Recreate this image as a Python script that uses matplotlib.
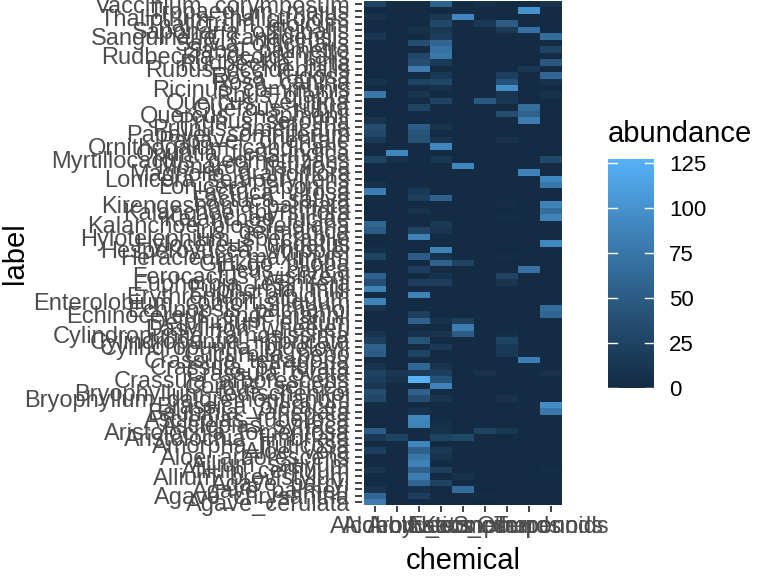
import numpy as np
import matplotlib
matplotlib.use("Agg")
import matplotlib.pyplot as plt
from matplotlib.colors import ListedColormap, Normalize
import matplotlib.colorbar as mcolorbar

plt.rcParams['font.family'] = ['Liberation Sans', 'DejaVu Sans']

# ---------------- data ----------------
chemicals = ["Alcohols", "Aldehydes", "Aromatics", "Esters", "Ketones",
             "N_compounds", "Other", "S_compounds", "Terpenoids"]

# plant labels, listed top to bottom (reverse alphabetical)
labels = [
    "Vaccinium_corymbosum", "Tropaeolum_majus", "Thalictrum_thalictroides",
    "Thalictrum_dioicum", "Saponaria_officinalis", "Sanguinaria_canadensis",
    "Salvia_officinalis", "Sabal_palmetto", "Rudbeckia_occidentalis",
    "Rudbeckia_hirta", "Rubus_occidentalis", "Rosa_rugosa", "Rosa_canina",
    "Ricinus_communis", "Rhus_glabra", "Quercus_velutina", "Quercus_rubra",
    "Quercus_chapmanii", "Prunus_serotina", "Prunus_americana",
    "Papaver_somniferum", "Papaver_orientale", "Ornithogalum_candicans",
    "Opuntia_ficus-indica", "Myrtillocactus_geometrizans", "Monarda_fistulosa",
    "Magnolia_grandiflora", "Lonicera_sempervirens", "Lonicera_japonica",
    "Lactuca_virosa", "Lactuca_sativa", "Kirengeshoma_palmata",
    "Kalanchoe_thyrsiflora", "Kalanchoe_luciae", "Kalanchoe_blossfeldiana",
    "Iris_germanica", "Hylotelephium_spectabile", "Hylocereus_undatus",
    "Hesperoyucca_whipplei", "Heracleum_maximum", "Ginkgo_biloba",
    "Ficus_carica", "Ferocactus_wislizeni", "Euphorbia_resinifera",
    "Euphorbia_milii", "Erythronium_albidum", "Enterolobium_contortisiliquum",
    "Echinopsis_pachanoi", "Echinocereus_engelmannii", "Delphinium_elatum",
    "Dasylirion_wheeleri", "Cylindropuntia_ramosissima",
    "Cylindropuntia_imbricata", "Cylindropuntia_bigelovii", "Cucurbita_pepo",
    "Crassula_tetragona", "Crassula_perforata", "Crassula_ovata",
    "Crassula_arborescens", "Cornus_sericea", "Bryophyllum_fedtschenkoi",
    "Bryophyllum_daigremontianum", "Brassica_oleracea", "Bauhinia_variegata",
    "Asclepias_tuberosa", "Asclepias_syriaca", "Aristolochia_tomentosa",
    "Aristolochia_fimbriata", "Amorpha_fruticosa", "Aloe_vera",
    "Aloe_arborescens", "Allium_sativum", "Allium_cernuum",
    "Allium_brevistylum", "Agave_parryi", "Agave_palmeri", "Agave_chrysantha",
    "Agave_cerulata",
]

# abundance per plant (rows in same order as labels), columns = chemicals
abundance = [
    [25, 0, 0, 55, 0, 8, 0, 0, 10],
    [0, 0, 0, 0, 0, 0, 0, 100, 0],
    [8, 0, 0, 12, 90, 0, 0, 0, 0],
    [0, 0, 0, 30, 0, 15, 50, 0, 0],
    [0, 0, 6, 12, 0, 0, 15, 70, 0],
    [12, 0, 0, 20, 0, 0, 0, 0, 65],
    [0, 0, 35, 60, 0, 0, 0, 0, 0],
    [0, 0, 0, 70, 0, 0, 0, 0, 25],
    [0, 0, 30, 75, 0, 0, 0, 0, 0],
    [0, 0, 35, 15, 0, 0, 0, 0, 45],
    [0, 0, 80, 0, 0, 0, 0, 12, 0],
    [0, 0, 0, 15, 0, 0, 20, 0, 60],
    [8, 0, 25, 30, 0, 0, 40, 0, 8],
    [0, 0, 0, 8, 0, 0, 95, 0, 0],
    [75, 0, 10, 0, 0, 0, 10, 0, 8],
    [0, 0, 0, 25, 0, 45, 12, 0, 0],
    [0, 0, 25, 0, 0, 0, 0, 65, 0],
    [0, 0, 0, 0, 0, 0, 35, 55, 0],
    [10, 0, 0, 0, 0, 0, 0, 80, 0],
    [35, 0, 50, 10, 0, 0, 0, 0, 0],
    [30, 0, 40, 0, 0, 0, 0, 0, 0],
    [15, 0, 40, 10, 0, 0, 8, 0, 0],
    [0, 0, 0, 90, 0, 0, 0, 0, 0],
    [0, 90, 0, 0, 0, 0, 0, 0, 0],
    [25, 8, 0, 12, 0, 0, 0, 0, 30],
    [0, 0, 0, 0, 90, 0, 0, 0, 0],
    [0, 0, 0, 0, 0, 0, 0, 85, 0],
    [0, 0, 0, 0, 0, 0, 0, 0, 90],
    [8, 0, 0, 0, 0, 0, 0, 0, 75],
    [80, 0, 15, 0, 0, 0, 0, 0, 0],
    [0, 0, 20, 55, 0, 0, 0, 0, 0],
    [0, 0, 0, 0, 0, 0, 3, 0, 85],
    [0, 0, 8, 0, 0, 0, 0, 0, 65],
    [0, 0, 0, 0, 0, 0, 3, 0, 85],
    [60, 0, 0, 15, 0, 0, 0, 0, 0],
    [50, 0, 25, 10, 0, 0, 0, 0, 0],
    [0, 0, 85, 0, 0, 0, 0, 0, 0],
    [0, 0, 0, 0, 0, 0, 0, 0, 90],
    [5, 0, 0, 85, 0, 0, 0, 0, 0],
    [25, 0, 50, 8, 0, 0, 3, 0, 0],
    [0, 0, 0, 55, 25, 0, 0, 0, 0],
    [0, 0, 20, 0, 0, 0, 0, 70, 0],
    [55, 0, 0, 8, 0, 0, 25, 0, 0],
    [35, 0, 20, 20, 0, 0, 10, 0, 0],
    [85, 0, 0, 0, 0, 0, 0, 0, 0],
    [0, 0, 85, 0, 0, 0, 0, 0, 0],
    [85, 0, 0, 0, 0, 0, 0, 0, 0],
    [10, 0, 0, 0, 0, 0, 0, 0, 65],
    [0, 0, 20, 0, 0, 0, 0, 0, 60],
    [0, 0, 55, 8, 20, 0, 0, 0, 0],
    [0, 0, 0, 0, 80, 0, 0, 0, 0],
    [10, 0, 8, 10, 50, 0, 5, 0, 0],
    [20, 0, 40, 0, 0, 0, 25, 0, 0],
    [55, 0, 0, 15, 0, 0, 15, 0, 0],
    [50, 0, 25, 0, 0, 0, 15, 0, 0],
    [0, 0, 0, 0, 0, 0, 0, 80, 0],
    [10, 0, 60, 10, 0, 0, 0, 0, 0],
    [25, 12, 15, 20, 0, 8, 0, 0, 8],
    [20, 8, 127, 40, 0, 0, 0, 0, 0],
    [12, 0, 0, 85, 0, 0, 0, 0, 0],
    [35, 0, 55, 0, 0, 0, 0, 0, 0],
    [30, 0, 35, 10, 0, 0, 8, 0, 0],
    [0, 0, 0, 0, 0, 0, 0, 0, 95],
    [0, 0, 8, 0, 0, 0, 0, 0, 75],
    [0, 0, 90, 0, 0, 0, 0, 0, 0],
    [0, 0, 85, 5, 0, 0, 0, 0, 0],
    [50, 0, 0, 8, 0, 25, 12, 0, 0],
    [15, 25, 0, 25, 30, 0, 0, 0, 0],
    [0, 0, 90, 0, 0, 0, 0, 0, 0],
    [20, 0, 55, 15, 0, 0, 0, 0, 0],
    [0, 0, 75, 10, 0, 0, 0, 0, 0],
    [0, 0, 85, 0, 0, 0, 0, 0, 0],
    [10, 0, 55, 20, 0, 0, 0, 0, 3],
    [0, 0, 80, 0, 8, 0, 0, 0, 0],
    [0, 0, 60, 25, 0, 0, 0, 0, 0],
    [10, 0, 5, 0, 65, 0, 0, 0, 0],
    [60, 0, 20, 0, 0, 3, 0, 0, 0],
    [80, 0, 0, 0, 0, 0, 0, 0, 0],
]
legend_ticks = [0, 25, 50, 75, 100, 125]

# ---------------- colour map (ggplot2 default gradient, Lab interpolation) ----------------
def _hex(h):
    h = h.lstrip('#')
    return np.array([int(h[i:i + 2], 16) / 255 for i in (0, 2, 4)])

_M = np.array([[0.4124564, 0.3575761, 0.1804375],
               [0.2126729, 0.7151522, 0.0721750],
               [0.0193339, 0.1191920, 0.9503041]])
_WP = np.array([0.95047, 1.0, 1.08883])

def _to_lab(rgb):
    lin = np.where(rgb <= 0.04045, rgb / 12.92, ((rgb + 0.055) / 1.055) ** 2.4)
    xyz = _M @ lin / _WP
    f = np.where(xyz > (6 / 29) ** 3, np.cbrt(xyz), xyz / (3 * (6 / 29) ** 2) + 4 / 29)
    return np.array([116 * f[1] - 16, 500 * (f[0] - f[1]), 200 * (f[1] - f[2])])

def _from_lab(lab):
    L, a, b = lab
    fy = (L + 16) / 116
    fx = fy + a / 500
    fz = fy - b / 200
    f = np.array([fx, fy, fz])
    xyz = np.where(f > 6 / 29, f ** 3, 3 * (6 / 29) ** 2 * (f - 4 / 29)) * _WP
    lin = np.linalg.solve(_M, xyz)
    lin = np.clip(lin, 0, 1)
    rgb = np.where(lin <= 0.0031308, 12.92 * lin, 1.055 * lin ** (1 / 2.4) - 0.055)
    return np.clip(rgb, 0, 1)

_lo, _hi = _to_lab(_hex("#132B43")), _to_lab(_hex("#56B1F7"))
cmap = ListedColormap([_from_lab(_lo + t * (_hi - _lo)) for t in np.linspace(0, 1, 256)])

# ---------------- figure ----------------
W, H = 768, 576
fig = plt.figure(figsize=(W / 100, H / 100), dpi=100)
fig.patch.set_facecolor('white')

vals = np.array(abundance, dtype=float)
n_rows, n_cols = vals.shape
norm = Normalize(vmin=vals.min(), vmax=vals.max())

px_l, px_r, px_t, px_b = 362, 564, 0.25, 506.1
ax = fig.add_axes([px_l / W, 1 - px_b / H, (px_r - px_l) / W, (px_b - px_t) / H])
ypos = n_rows - 1 - np.arange(n_rows)
xedges = np.arange(n_cols + 1) - 0.5
yedges = np.arange(n_rows + 1) - 0.5
ax.pcolormesh(xedges, yedges, vals[::-1], cmap=cmap, norm=norm, shading='flat')
ax.set_xlim(-0.6, n_cols - 0.4)
ax.set_ylim(-0.6, n_rows - 0.4)

ax.set_xticks(np.arange(n_cols))
ax.set_xticklabels(chemicals)
ax.set_yticks(ypos)
ax.set_yticklabels(labels)
for s in ax.spines.values():
    s.set_visible(False)
ax.tick_params(axis='both', direction='out', color='#333333', width=1.3,
               labelsize=17, labelcolor='#4D4D4D')
ax.tick_params(axis='y', length=5, pad=3.5)
ax.tick_params(axis='x', length=4.5, pad=2.5)

fig.text(15 / W, 1 - 253 / H, "label", rotation=90, ha='center', va='center',
         fontsize=21, color='black')
fig.text(463 / W, 1 - 561 / H, "chemical", ha='center', va='center',
         fontsize=21, color='black')

# ---------------- colour bar ----------------
cb_l, cb_r, cb_t, cb_b = 608, 654, 159, 388
cax = fig.add_axes([cb_l / W, 1 - cb_b / H, (cb_r - cb_l) / W, (cb_b - cb_t) / H])
cb = mcolorbar.ColorbarBase(cax, cmap=cmap, norm=norm, orientation='vertical')
cb.outline.set_visible(False)
cb.set_ticks(legend_ticks)
cb.set_ticklabels([str(t) for t in legend_ticks])
cax.tick_params(length=0, pad=11, labelsize=16, labelcolor='black')
tr = cax.get_yaxis_transform()
for t in legend_ticks:
    cax.plot([0, 0.2], [t, t], color='white', lw=1.0, transform=tr, clip_on=False)
    cax.plot([0.8, 1.0], [t, t], color='white', lw=1.0, transform=tr, clip_on=False)
fig.text(cb_l / W, 1 - 142 / H, "abundance", ha='left', va='baseline',
         fontsize=21, color='black')

fig.savefig("out.png", dpi=100, facecolor='white')
